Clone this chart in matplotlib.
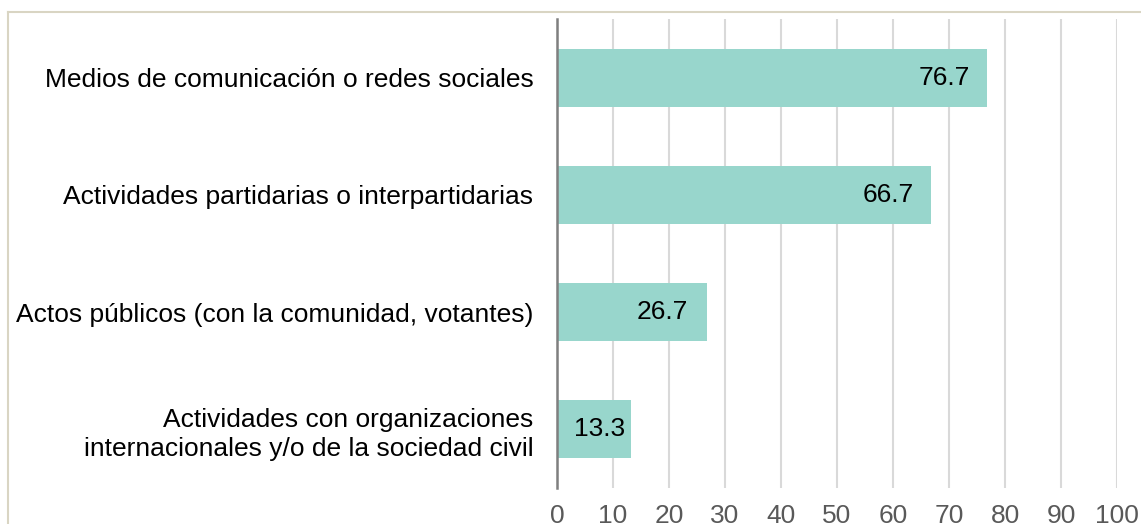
import matplotlib.pyplot as plt
from matplotlib.lines import Line2D

plt.rcParams['font.family'] = ['Liberation Sans', 'DejaVu Sans']

# Data
categories = [
    "Medios de comunicación o redes sociales",
    "Actividades partidarias o interpartidarias",
    "Actos públicos (con la comunidad, votantes)",
    "Actividades con organizaciones\ninternacionales y/o de la sociedad civil",
]
values = [76.7, 66.7, 26.7, 13.3]
x_ticks = [0, 10, 20, 30, 40, 50, 60, 70, 80, 90, 100]

fs = 19
label_pads = [12, 12, 13.5, 4.5]  # points from bar end to label

fig = plt.figure(figsize=(11.41, 5.24), dpi=100)
ax = fig.add_axes([557 / 1141, 1 - 488 / 524, 560 / 1141, 469 / 524])

y_pos = list(range(len(categories)))
bars = ax.barh(y_pos, values, height=0.495, color="#98D6CC", zorder=3)

ax.set_ylim(len(categories) - 0.5, -0.5)
ax.set_xlim(0, 100)
ax.set_yticks(y_pos)
ax.set_yticklabels(categories, fontsize=fs, color="black", linespacing=1.25)
ax.set_xticks(x_ticks)
ax.set_xticklabels([str(t) for t in x_ticks], fontsize=fs, color="#595959")
ax.tick_params(axis="both", length=0)
ax.tick_params(axis="y", pad=17)
ax.tick_params(axis="x", pad=11.5)

ax.grid(axis="x", color="#D9D9D9", linewidth=1.5, zorder=0)
for s in ["top", "right", "bottom"]:
    ax.spines[s].set_visible(False)
ax.spines["left"].set_color("#7F7F7F")
ax.spines["left"].set_linewidth(1.8)
ax.spines["left"].set_zorder(4)

# Value labels inside bar end
for b, v, p in zip(bars, values, label_pads):
    ax.annotate(f"{v:.1f}", (v, b.get_y() + b.get_height() / 2),
                xytext=(-p, 0), textcoords="offset points",
                ha="right", va="center", fontsize=fs, color="black", zorder=5)

# Chart frame (partially visible)
fig.add_artist(Line2D([8 / 1141, 8 / 1141], [0, 1 - 12 / 524],
                      transform=fig.transFigure, color="#D9D5C3", linewidth=1.5))
fig.add_artist(Line2D([8 / 1141, 1], [1 - 12 / 524, 1 - 12 / 524],
                      transform=fig.transFigure, color="#D9D5C3", linewidth=1.5))

fig.savefig("out.png", dpi=100)
